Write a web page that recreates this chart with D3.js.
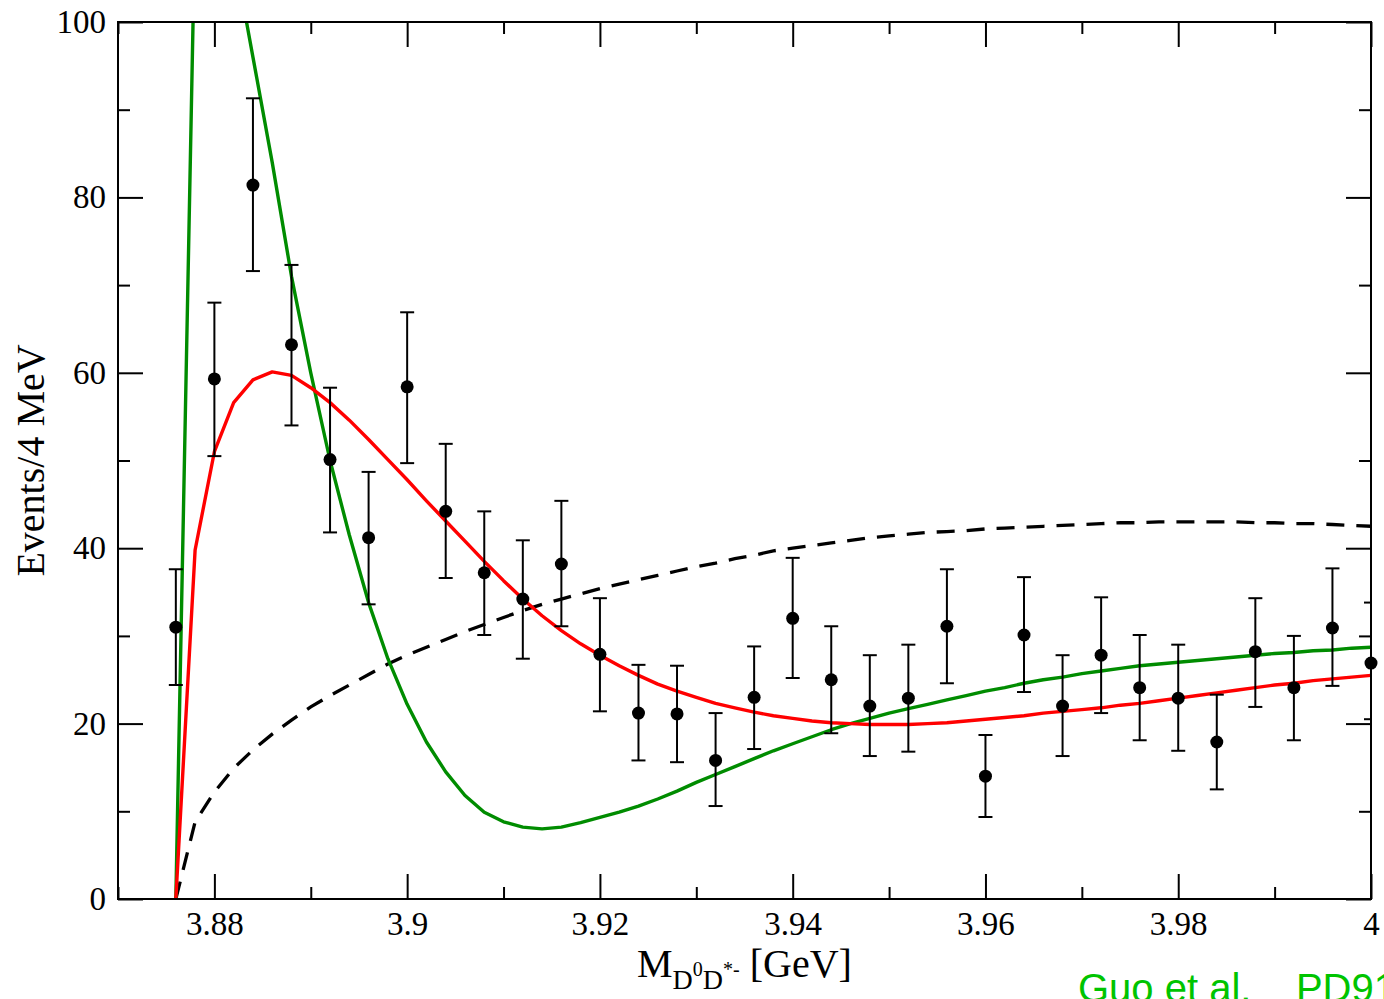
<!DOCTYPE html>
<html>
<head>
<meta charset="utf-8">
<script src="https://cdn.jsdelivr.net/npm/d3@7"></script>
<style>
  html, body { margin: 0; padding: 0; background: #fff; }
  svg { display: block; }
</style>
</head>
<body>
<svg id="chart" width="1384" height="999"></svg>
<script>
// Measured D0 D*- invariant mass spectrum (events per 4 MeV bin)
const binCenters = [3.876, 3.880, 3.884, 3.888, 3.892, 3.896, 3.900, 3.904, 3.908, 3.912,
                    3.916, 3.920, 3.924, 3.928, 3.932, 3.936, 3.940, 3.944, 3.948, 3.952,
                    3.956, 3.960, 3.964, 3.968, 3.972, 3.976, 3.980, 3.984, 3.988, 3.992,
                    3.996, 4.000];
const events    = [31.0, 59.3, 81.4, 63.2, 50.1, 41.2, 58.4, 44.2, 37.2, 34.2,
                   38.2, 27.9, 21.2, 21.1, 15.8, 23.0, 32.0, 25.0, 22.0, 22.9,
                   31.1, 14.0, 30.1, 22.0, 27.8, 24.1, 22.9, 17.9, 28.2, 24.1,
                   30.9, 26.9];
const errHigh   = [37.6, 68.0, 91.3, 72.3, 58.3, 48.7, 66.9, 51.9, 44.2, 40.9,
                   45.4, 34.3, 26.7, 26.6, 21.2, 28.8, 38.9, 31.1, 27.8, 29.0,
                   37.6, 18.7, 36.7, 27.8, 34.4, 30.1, 29.0, 23.3, 34.3, 30.0,
                   37.7, 33.8];
const errLow    = [24.4, 50.5, 71.6, 54.0, 41.8, 33.6, 49.7, 36.6, 30.1, 27.4,
                   31.1, 21.4, 15.8, 15.6, 10.6, 17.1, 25.2, 18.9, 16.3, 16.8,
                   24.6, 9.35, 23.6, 16.3, 21.2, 18.1, 16.9, 12.5, 21.9, 18.1,
                   24.3, 20.5];

// Model curves, tabulated every 2 MeV from threshold (3.876 GeV) to 4.0 GeV
const curveMass = d3.range(0, 63).map(i => +(3.876 + 0.002 * i).toFixed(3));
const fitRed = [0, 39.8, 51.0, 56.6, 59.2, 60.1, 59.7, 58.3, 56.6, 54.6,
                52.4, 50.1, 47.8, 45.4, 43.1, 40.8, 38.5, 36.3, 34.2, 32.3,
                30.6, 29.1, 27.8, 26.6, 25.5, 24.5, 23.7, 23.0, 22.3, 21.8,
                21.3, 20.9, 20.6, 20.3, 20.1, 20.0, 19.9, 19.9, 19.9, 20.0,
                20.1, 20.3, 20.5, 20.7, 20.9, 21.2, 21.4, 21.6, 21.8, 22.1,
                22.3, 22.6, 22.9, 23.2, 23.5, 23.8, 24.1, 24.4, 24.6, 24.9,
                25.1, 25.3, 25.5];
const fitGreen = [0, 112, 160, 108, 96, 84, 71, 60, 50, 41.5,
                  33.8, 27.4, 22.2, 17.9, 14.5, 11.8, 9.9, 8.8, 8.2, 8.0,
                  8.2, 8.7, 9.3, 9.9, 10.6, 11.4, 12.3, 13.3, 14.2, 15.1,
                  16.0, 16.9, 17.7, 18.5, 19.3, 20.0, 20.6, 21.2, 21.7, 22.2,
                  22.7, 23.2, 23.7, 24.1, 24.6, 25.0, 25.3, 25.7, 26.0, 26.3,
                  26.6, 26.8, 27.0, 27.2, 27.4, 27.6, 27.8, 28.0, 28.1, 28.3,
                  28.4, 28.6, 28.7];
const phaseSpace = [0, 8.8, 12.2, 14.9, 17.0, 18.8, 20.4, 21.9, 23.2, 24.4,
                    25.6, 26.8, 27.8, 28.7, 29.6, 30.5, 31.3, 32.1, 32.9, 33.6,
                    34.2, 34.8, 35.4, 35.9, 36.4, 36.9, 37.4, 37.9, 38.3, 38.8,
                    39.2, 39.7, 40.0, 40.3, 40.6, 40.9, 41.2, 41.4, 41.6, 41.8,
                    41.9, 42.0, 42.2, 42.3, 42.4, 42.5, 42.6, 42.7, 42.8, 42.9,
                    42.9, 43.0, 43.0, 43.0, 43.0, 43.0, 42.9, 42.9, 42.8, 42.8,
                    42.7, 42.6, 42.5];

// Axis ticks
const xMajorTicks = [3.88, 3.90, 3.92, 3.94, 3.96, 3.98, 4.00];
const xMinorTicks = [3.87, 3.89, 3.91, 3.93, 3.95, 3.97, 3.99];
const yMajorTicks = [0, 20, 40, 60, 80, 100];
const yMinorTicks = [10, 30, 50, 70, 90];

const yLabel = "Events/4 MeV";
const credit = "Guo et al.\u00a0\u00a0\u00a0\u00a0PD91";

const SERIF = "'Liberation Serif', 'Times New Roman', Times, serif";
const SANS = "'Liberation Sans', Arial, Helvetica, sans-serif";

const svg = d3.select("#chart");
const plot = { left: 118, right: 1371, top: 22, bottom: 899 };

const x = d3.scaleLinear().domain([3.87, 4.0]).range([plot.left, plot.right]);
const y = d3.scaleLinear().domain([0, 100]).range([plot.bottom, plot.top]);

svg.append("defs").append("clipPath").attr("id", "plotClip")
  .append("rect")
  .attr("x", plot.left).attr("y", plot.top)
  .attr("width", plot.right - plot.left).attr("height", plot.bottom - plot.top);

const W = plot.right - plot.left, H = plot.bottom - plot.top;
const majorLen = 25, minorLen = 12;
const fmtX = d => String(+d.toFixed(2));

function styleAxis(g) {
  g.attr("font-family", SERIF).attr("font-size", 33);
  g.select(".domain").remove();
  g.selectAll(".tick line").attr("stroke", "#000").attr("stroke-width", 2);
  g.selectAll(".tick text").attr("fill", "#000");
}

// bottom axis (ticks pointing inward, labels below)
svg.append("g").attr("transform", `translate(0,${plot.bottom})`)
  .call(d3.axisBottom(x).tickValues(xMajorTicks).tickSizeInner(-majorLen).tickSizeOuter(0).tickFormat(fmtX))
  .call(styleAxis)
  .call(g => g.selectAll(".tick text").attr("y", 36).attr("dy", "0"));
svg.append("g").attr("transform", `translate(0,${plot.bottom})`)
  .call(d3.axisBottom(x).tickValues(xMinorTicks).tickSizeInner(-minorLen).tickSizeOuter(0).tickFormat(""))
  .call(styleAxis);
// top axis mirror
svg.append("g").attr("transform", `translate(0,${plot.top})`)
  .call(d3.axisTop(x).tickValues(xMajorTicks).tickSizeInner(-majorLen).tickSizeOuter(0).tickFormat(""))
  .call(styleAxis);
svg.append("g").attr("transform", `translate(0,${plot.top})`)
  .call(d3.axisTop(x).tickValues(xMinorTicks).tickSizeInner(-minorLen).tickSizeOuter(0).tickFormat(""))
  .call(styleAxis);
// left axis
svg.append("g").attr("transform", `translate(${plot.left},0)`)
  .call(d3.axisLeft(y).tickValues(yMajorTicks).tickSizeInner(-majorLen).tickSizeOuter(0)
        .tickPadding(12).tickFormat(d3.format("d")))
  .call(styleAxis);
svg.append("g").attr("transform", `translate(${plot.left},0)`)
  .call(d3.axisLeft(y).tickValues(yMinorTicks).tickSizeInner(-minorLen).tickSizeOuter(0).tickFormat(""))
  .call(styleAxis);
// right axis mirror
svg.append("g").attr("transform", `translate(${plot.right},0)`)
  .call(d3.axisRight(y).tickValues(yMajorTicks).tickSizeInner(-majorLen).tickSizeOuter(0).tickFormat(""))
  .call(styleAxis);
svg.append("g").attr("transform", `translate(${plot.right},0)`)
  .call(d3.axisRight(y).tickValues(yMinorTicks).tickSizeInner(-minorLen).tickSizeOuter(0).tickFormat(""))
  .call(styleAxis);

const layer = svg.append("g").attr("clip-path", "url(#plotClip)");

const line = d3.line().x(d => x(d[0])).y(d => y(d[1])).curve(d3.curveLinear);

// phase-space background (dashed)
layer.append("path")
  .datum(curveMass.map((m, i) => [m, phaseSpace[i]]))
  .attr("d", line)
  .attr("fill", "none").attr("stroke", "#000").attr("stroke-width", 3.3)
  .attr("stroke-dasharray", "18,12");

// green model
layer.append("path")
  .datum(curveMass.map((m, i) => [m, fitGreen[i]]))
  .attr("d", line)
  .attr("fill", "none").attr("stroke", "#008c00").attr("stroke-width", 3.4)
  .attr("stroke-linejoin", "round");

// red model
layer.append("path")
  .datum(curveMass.map((m, i) => [m, fitRed[i]]))
  .attr("d", line)
  .attr("fill", "none").attr("stroke", "#ff0000").attr("stroke-width", 3.4)
  .attr("stroke-linejoin", "round");

// data with error bars
const pts = binCenters.map((m, i) => ({ m, v: events[i], hi: errHigh[i], lo: errLow[i] }));
const eb = layer.append("g").attr("stroke", "#000").attr("stroke-width", 2);
const capW = 7;
eb.selectAll("line.bar").data(pts).join("line").attr("class", "bar")
  .attr("x1", d => x(d.m)).attr("x2", d => x(d.m))
  .attr("y1", d => y(d.hi)).attr("y2", d => y(d.lo));
eb.selectAll("line.capHi").data(pts).join("line").attr("class", "capHi")
  .attr("x1", d => x(d.m) - capW).attr("x2", d => x(d.m) + capW)
  .attr("y1", d => y(d.hi)).attr("y2", d => y(d.hi));
eb.selectAll("line.capLo").data(pts).join("line").attr("class", "capLo")
  .attr("x1", d => x(d.m) - capW).attr("x2", d => x(d.m) + capW)
  .attr("y1", d => y(d.lo)).attr("y2", d => y(d.lo));
svg.append("g").selectAll("circle").data(pts).join("circle")
  .attr("cx", d => x(d.m)).attr("cy", d => y(d.v)).attr("r", 6.5).attr("fill", "#000");

// frame
svg.append("rect")
  .attr("x", plot.left).attr("y", plot.top).attr("width", W).attr("height", H)
  .attr("fill", "none").attr("stroke", "#000").attr("stroke-width", 2);

// axis titles
svg.append("text")
  .attr("transform", `translate(44,${(plot.top + plot.bottom) / 2}) rotate(-90)`)
  .attr("text-anchor", "middle")
  .attr("font-family", SERIF).attr("font-size", 40).attr("fill", "#000")
  .text(yLabel);

// M with subscript D^0 D^{*-}, then the unit
const titleBase = 977;
const xt = svg.append("text")
  .attr("x", 637).attr("y", titleBase)
  .attr("font-family", SERIF).attr("font-size", 40).attr("fill", "#000");
xt.append("tspan").text("M");
xt.append("tspan").attr("font-size", 28).attr("y", titleBase + 12).text("D");
xt.append("tspan").attr("font-size", 20).attr("y", titleBase - 1).text("0");
xt.append("tspan").attr("font-size", 28).attr("y", titleBase + 12).text("D");
xt.append("tspan").attr("font-size", 20).attr("y", titleBase - 1).text("*-");
xt.append("tspan").attr("y", titleBase).text(" [GeV]");

// citation
svg.append("text")
  .attr("x", 1078).attr("y", 1002)
  .attr("font-family", SANS)
  .attr("font-size", 40).attr("fill", "#00c400")
  .text(credit);
</script>
</body>
</html>
